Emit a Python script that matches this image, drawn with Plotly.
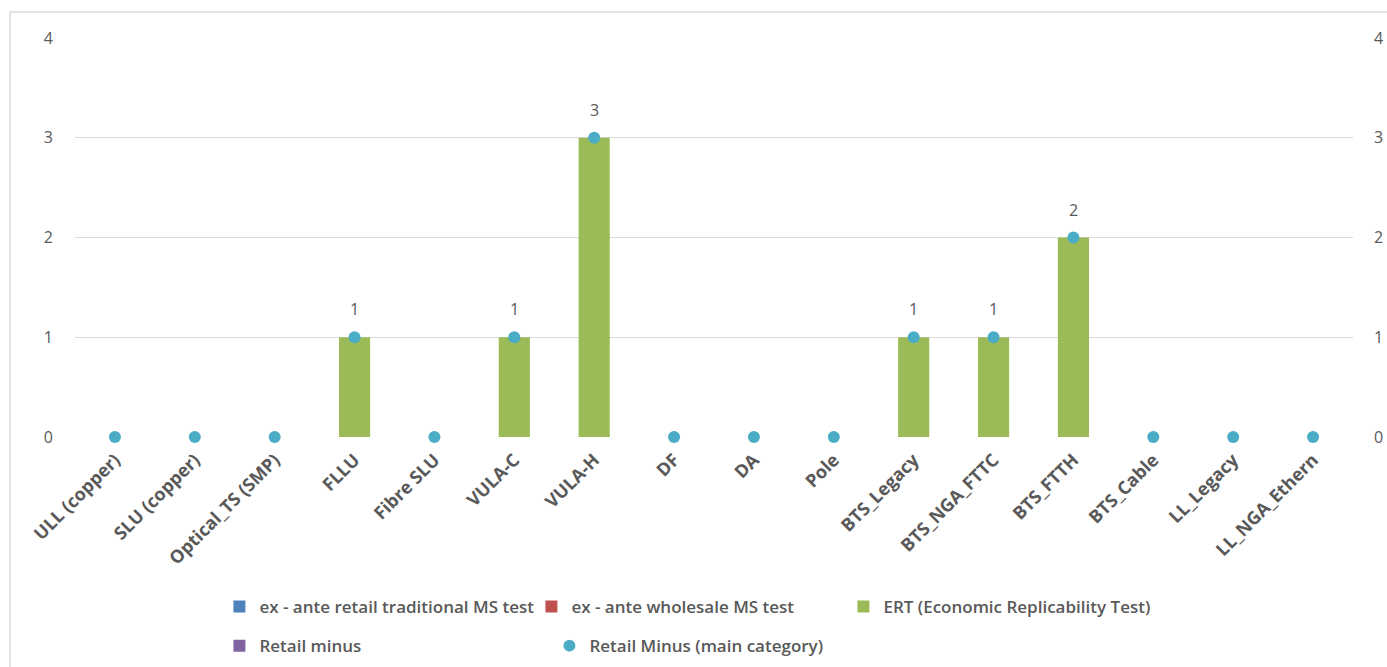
import plotly.graph_objects as go

# Regulatory remedy categories
categories = [
    "ULL (copper)", "SLU (copper)", "Optical_TS (SMP)", "FLLU", "Fibre SLU",
    "VULA-C", "VULA-H", "DF", "DA", "Pole", "BTS_Legacy", "BTS_NGA_FTTC",
    "BTS_FTTH", "BTS_Cable", "LL_Legacy", "LL_NGA_Ethern",
]

# Number of cases per test type
ex_ante_retail = [0] * 16
ex_ante_wholesale = [0] * 16
ert = [0, 0, 0, 1, 0, 1, 3, 0, 0, 0, 1, 1, 2, 0, 0, 0]
retail_minus = [0] * 16
retail_minus_main = [0, 0, 0, 1, 0, 1, 3, 0, 0, 0, 1, 1, 2, 0, 0, 0]

y_ticks = [0, 1, 2, 3, 4]

FONT = "Open Sans"
GREY = "#595959"

fig = go.Figure()

bar_series = [
    (ex_ante_retail, "ex - ante retail traditional MS test", "#4F81BD", "legend"),
    (ex_ante_wholesale, "ex - ante wholesale MS test", "#C0504D", "legend"),
    (ert, "ERT (Economic Replicability Test)", "#9BBB59", "legend"),
    (retail_minus, "Retail minus", "#8064A2", "legend2"),
]
for values, name, color, leg in bar_series:
    fig.add_trace(go.Bar(x=categories, y=values, name=name, width=0.39, legend=leg,
                         marker=dict(color=color, line=dict(width=0))))

fig.add_trace(go.Scatter(x=categories, y=retail_minus_main, name="Retail Minus (main category)",
                         mode="markers", marker=dict(color="#4BACC6", size=12),
                         cliponaxis=False, legend="legend2"))

# Value labels over the ERT bars
for cat, v in zip(categories, ert):
    if v:
        fig.add_annotation(x=cat, y=v, text=str(v), showarrow=False, yanchor="bottom",
                           yshift=15, font=dict(family=FONT, size=16, color=GREY))

# Right-hand duplicate value axis
fig.add_trace(go.Scatter(x=[categories[0]], y=[0], yaxis="y2", mode="markers",
                         marker=dict(opacity=0), showlegend=False, hoverinfo="skip"))

# Outer chart frame
fig.add_shape(type="rect", xref="paper", yref="paper",
              x0=-0.0509, x1=1.03, y0=-0.62, y1=1.065,
              line=dict(color="#D9D9D9", width=1.5), layer="below")

legend_font = dict(family=FONT, size=17, color=GREY, weight=600)

fig.update_layout(
    width=1387, height=667,
    margin=dict(l=75, r=34, t=38, b=230, autoexpand=False),
    paper_bgcolor="white", plot_bgcolor="white",
    barmode="overlay",
    showlegend=True,
    font=dict(family=FONT, color=GREY),
    xaxis=dict(
        tickangle=-45, showgrid=False, showline=False, ticks="", automargin=False,
        ticklabelstandoff=8,
        tickfont=dict(family=FONT, size=18, color=GREY, weight="bold"),
        range=[-0.5, 15.5],
    ),
    yaxis=dict(
        range=[0, 4], tickvals=y_ticks, showgrid=True, gridcolor="#D9D9D9", gridwidth=1,
        zeroline=False, showline=False, ticks="", ticklabelstandoff=21, automargin=False,
        tickfont=dict(family=FONT, size=16, color=GREY),
    ),
    yaxis2=dict(
        range=[0, 4], tickvals=y_ticks, overlaying="y", side="right", showgrid=False,
        zeroline=False, showline=False, ticks="", ticklabelstandoff=20, automargin=False,
        tickfont=dict(family=FONT, size=16, color=GREY),
    ),
    legend=dict(orientation="h", x=0.113, y=-0.426, xanchor="left", yanchor="middle",
                entrywidth=267, entrywidthmode="pixels", font=legend_font,
                bgcolor="rgba(0,0,0,0)", itemclick=False),
    legend2=dict(orientation="h", x=0.113, y=-0.524, xanchor="left", yanchor="middle",
                 entrywidth=285, entrywidthmode="pixels", font=legend_font,
                 bgcolor="rgba(0,0,0,0)", itemclick=False),
)

fig.write_html("out.html")
